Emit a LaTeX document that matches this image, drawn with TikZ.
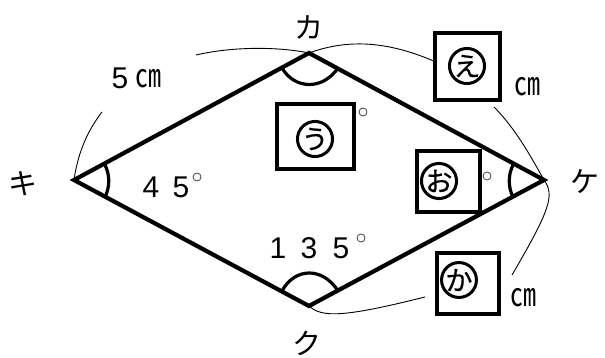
\documentclass[tikz,border=0pt]{standalone}
\usepackage{fontspec}
\newfontfamily\jp{Noto Sans CJK JP}
\newfontfamily\jpheavy[FakeBold=0.6]{Noto Sans CJK JP}
\setmainfont{Liberation Sans}
\newcommand{\tallcm}{\scalebox{1}[1.25]{㎝}}
\tikzset{
  x=1pt,y=-1pt,
  edge/.style={line width=4.2pt,line join=miter,line cap=butt},
  ang/.style={line width=3.2pt},
  thin arc/.style={line width=0.9pt},
  blank/.style={draw,line width=4pt,fill=white,minimum width=#1,inner sep=0pt},
  kata/.style={font=\jp\fontsize{29}{29}\selectfont,inner sep=0pt},
  num/.style={font=\fontsize{30}{30}\selectfont,inner sep=0pt},
  unit/.style={font=\jp\fontsize{26}{26}\selectfont,inner sep=0pt},
  deg/.style={circle,draw=black!75,line width=0.8pt,minimum size=8pt,inner sep=0pt},
  circled/.style={circle,draw,line width=3pt,minimum size=33pt,inner sep=0pt,font=\jpheavy\fontsize{27}{27}\selectfont}
}
\begin{document}
\begin{tikzpicture}
\useasboundingbox (0,0) rectangle (605,358);
\coordinate (ka) at (309,53);
\coordinate (ki) at (74,180);
\coordinate (ke) at (544,180);
\coordinate (ku) at (309,306);
% thin arcs
\coordinate (a1) at (196,55);
\coordinate (a2) at (102,112);
\coordinate (a3) at (436,62);
\coordinate (a4) at (494,107);
\coordinate (a5) at (512,275);
\coordinate (a6) at (425,297);
\draw[thin arc] (a1) .. controls (235,46) and (280,47) .. (ka);
\draw[thin arc] (a2) .. controls (88,130) and (78,152) .. (ki);
\draw[thin arc] (ka) .. controls (350,38) and (390,42) .. (a3);
\draw[thin arc] (a4) .. controls (515,128) and (530,155) .. (ke);
\draw[thin arc] (ke) .. controls (555,195) and (550,210) .. (a5);
\draw[thin arc] (ku) .. controls (322,318) and (345,317) .. (a6);
% angle marks
\draw[ang] (282,68) .. controls (295,90) and (323,90) .. (338,68);
\draw[ang] (105,165) .. controls (110,175) and (110,187) .. (105,197);
\draw[ang] (513,165) .. controls (508,175) and (508,187) .. (513,197);
\draw[ang] (282,291) .. controls (295,267) and (323,267) .. (338,291);
% blanks
\node[blank=77pt,minimum height=65pt] (bu) at (315,137) {};
\node[blank=65pt,minimum height=67pt] (be) at (467,67) {};
\node[blank=63pt,minimum height=61pt] (bo) at (448,182) {};
\node[blank=62pt,minimum height=61pt] (bka) at (468,283) {};
% quadrilateral
\draw[edge] (ka) -- (ki) -- (ku) -- (ke) -- cycle;
\node[circled] (cu) at (315,139) {う};
\node[circled] (ce) at (467,66) {え};
\node[circled] (co) at (439,181) {お};
\node[circled] (cka) at (459,280) {か};
\node[kata] (lka) at (309,27) {カ};
\node[kata] (lki) at (23,184) {キ};
\node[kata] (lke) at (585,182) {ケ};
\node[kata] (lku) at (307,343) {ク};
\node[num] (n5) at (120,78) {5};
\node[unit] (u1) at (148,79) {\tallcm};
\node[unit] (u2) at (527,87) {\tallcm};
\node[unit] (u3) at (523,298) {\tallcm};
\node[num] (n45a) at (151,187) {4};
\node[num] (n45b) at (181,187) {5};
\node[num] (n1) at (278,248) {1};
\node[num] (n3) at (309,248) {3};
\node[num] (n5b) at (341,248) {5};
\node[deg] (d1) at (197,177) {};
\node[deg] (d2) at (361,238) {};
\node[deg] (d3) at (363,112) {};
\node[deg] (d4) at (487,176) {};
\end{tikzpicture}
\end{document}
